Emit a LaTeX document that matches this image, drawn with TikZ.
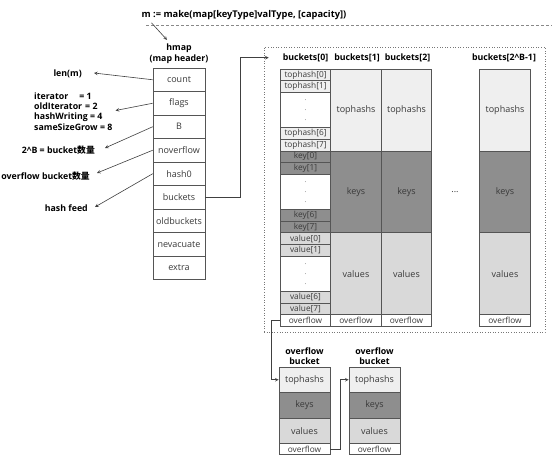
\documentclass[tikz,border=0pt]{standalone}
\usepackage{fontspec}
\setmainfont{Open Sans}
\newfontfamily\cjk{Noto Sans CJK SC}
\usepackage{tikz}
\usetikzlibrary{arrows,positioning}
\usepackage{xcolor}
\definecolor{mapLine}{HTML}{555555}
\definecolor{mapText}{HTML}{3A3A3A}
\definecolor{mapTop}{HTML}{EFEFEF}
\definecolor{mapKey}{HTML}{8E8E8E}
\definecolor{mapVal}{HTML}{D9D9D9}
\definecolor{mapArrow}{HTML}{404040}

\tikzset{
  hcell/.style={draw=mapLine, line width=0.7pt, fill=white, minimum width=52pt, minimum height=23.5pt, inner sep=0pt, text=mapText, font=\fontsize{9}{10}\selectfont},
  scell/.style={draw=mapLine, line width=0.7pt, fill=white, minimum width=51pt, minimum height=11.7pt, inner sep=0pt, text=mapText, font=\fontsize{8.3}{9}\selectfont},
  dcell/.style={scell, align=center, minimum height=35.1pt, font=\fontsize{6}{10}\selectfont},
  bcell/.style={draw=mapLine, line width=0.7pt, minimum width=50.5pt, minimum height=81.9pt, inner sep=0pt, text=mapText, font=\fontsize{9}{10}\selectfont},
  ocell/.style={bcell, minimum width=51pt, minimum height=25.5pt},
  lbl/.style={font=\bfseries\fontsize{8.8}{10.3}\selectfont, inner sep=1pt},
  ptr/.style={-stealth, mapArrow, line width=0.6pt},
}

\begin{document}
\begin{tikzpicture}[x=1pt,y=-1pt]
    \useasboundingbox[fill=white] (0,0) rectangle (560,464);

    % make() call and map header
    \node[lbl, font=\bfseries\fontsize{9.3}{11}\selectfont] (title) at (244,15) {m := make(map[keyType]valType, [capacity])};
    \draw[mapLine!70, densely dashed, line width=0.5pt] ([xshift=6pt,yshift=-4pt]title.south west) -- ++(406,0);
    \node[lbl, align=center, font=\bfseries\fontsize{8.8}{11}\selectfont] (hmaplbl) at (179,54) {hmap\\(map header)};
    \draw[ptr] ([xshift=11pt,yshift=-2pt]title.south west) -- ([xshift=-12pt,yshift=3pt]hmaplbl.north);

    \foreach \f [count=\i from 0] in {count,flags,B,noverflow,hash0,buckets,oldbuckets,nevacuate,extra}
        \node[hcell] (\f) at (179,79.75+23.5*\i) {\f};

    % field notes
    \node[lbl, anchor=east] (lenlbl) at (83,74) {len(m)};
    \node[lbl, anchor=west, align=left] (flagslbl) at (33,111.5) {iterator\hspace{11pt}= 1\\oldIterator\hspace{3pt}= 2\\hashWriting = 4\\sameSizeGrow = 8};
    \node[lbl, anchor=east] (blbl) at (96,150) {2\textasciicircum B = bucket{\cjk 数量}};
    \node[lbl, anchor=east] (ovlbl) at (91,176) {overflow bucket{\cjk 数量}};
    \node[lbl, anchor=east] (hashlbl) at (89,208) {hash feed};

    \draw[ptr] (count.west) -- ([xshift=11pt,yshift=1pt]lenlbl.east);
    \draw[ptr] (flags.west) -- ([xshift=2pt,yshift=1pt]flagslbl.east);
    \draw[ptr] (B.west) -- ([xshift=9pt,yshift=2pt]blbl.east);
    \draw[ptr] (noverflow.west) -- ([xshift=6pt,yshift=3pt]ovlbl.east);
    \draw[ptr] (hash0.west) -- ([xshift=6pt,yshift=1pt]hashlbl.east);

    % bucket array
    \node[draw=mapLine!80, dotted, line width=0.6pt, minimum width=281pt, minimum height=285pt, inner sep=0pt] (frame) at (404.5,189.5) {};
    \draw[ptr] (buckets.east) -- ++(35,0) |- ([xshift=5pt,yshift=-11pt]frame.north west);

    \node[lbl] (hb0) at (305.5,58) {buckets[0]};
    \node[lbl] (hb1) at (357,58) {buckets[1]};
    \node[lbl] (hb2) at (407.5,58) {buckets[2]};
    \node[lbl] (hbn) at (504,58) {buckets[2\textasciicircum B-1]};

    \foreach \p/\word/\c [count=\s from 0] in {th/tophash/mapTop, key/key/mapKey, val/value/mapVal} {
        \pgfmathsetmacro\yo{69+81.9*\s}
        \node[scell, fill=\c] (\p0) at (305.5,\yo+5.85) {\word[0]};
        \node[scell, fill=\c] (\p1) at (305.5,\yo+17.55) {\word[1]};
        \node[dcell] (\p dots) at (305.5,\yo+40.95) {.\\.\\.};
        \node[scell, fill=\c] (\p6) at (305.5,\yo+64.35) {\word[6]};
        \node[scell, fill=\c] (\p7) at (305.5,\yo+76.05) {\word[7]};
    }
    \node[scell] (of0) at (305.5,320.55) {overflow};

    \foreach \x/\n in {356/1, 406.5/2, 505/n} {
        \node[bcell, fill=mapTop] (ts\n) at (\x,109.95) {tophashs};
        \node[bcell, fill=mapKey] (ks\n) at (\x,191.85) {keys};
        \node[bcell, fill=mapVal] (vs\n) at (\x,273.75) {values};
        \node[scell, minimum width=50.5pt] (of\n) at (\x,320.55) {overflow};
    }
    \node[text=mapText, font=\fontsize{9}{10}\selectfont] (gap) at (455,192) {...};

    % overflow chain
    \foreach \x/\n in {304.5/1, 374.5/2} {
        \node[lbl, align=center, font=\bfseries\fontsize{8.8}{10}\selectfont] (ob\n) at (\x,356) {overflow\\bucket};
        \node[ocell, fill=mapTop] (obt\n) at (\x,379.75) {tophashs};
        \node[ocell, fill=mapKey] (obk\n) at (\x,405.25) {keys};
        \node[ocell, fill=mapVal] (obv\n) at (\x,430.75) {values};
        \node[scell, minimum height=11pt] (obo\n) at (\x,449) {overflow};
    }
    \draw[ptr] (of0.west) -- ++(-8,0) |- (obt1.west);
    \draw[ptr] (obo1.east) -- ++(10,0) |- (obt2.west);
\end{tikzpicture}
\end{document}
